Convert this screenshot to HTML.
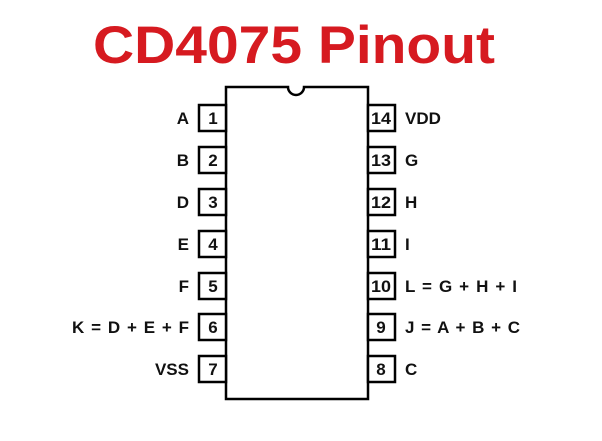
<!DOCTYPE html>
<html><head><style>body{margin:0;background:#fff}</style></head><body>
<svg width="602" height="436" xmlns="http://www.w3.org/2000/svg" font-family="Liberation Sans, Arial, sans-serif">
<text x="93" y="63" font-size="53" font-weight="bold" fill="#d61a20" textLength="402" lengthAdjust="spacingAndGlyphs">CD4075 Pinout</text>
<g stroke="#000" stroke-width="2.5" fill="#fff">
<path d="M226 87 H288 A8 8 0 0 0 304 87 H368 V399 H226 Z"/>
<rect x="199" y="105" width="27" height="26"/><rect x="199" y="147" width="27" height="26"/>
<rect x="199" y="189" width="27" height="26"/><rect x="199" y="231" width="27" height="26"/>
<rect x="199" y="273" width="27" height="26"/><rect x="199" y="314" width="27" height="26"/>
<rect x="199" y="356" width="27" height="26"/>
<rect x="368" y="105" width="27" height="26"/><rect x="368" y="147" width="27" height="26"/>
<rect x="368" y="189" width="27" height="26"/><rect x="368" y="231" width="27" height="26"/>
<rect x="368" y="273" width="27" height="26"/><rect x="368" y="314" width="27" height="26"/>
<rect x="368" y="356" width="27" height="26"/>
</g>
<g font-size="17" font-weight="bold" fill="#111" text-anchor="middle">
<text x="213" y="124">1</text><text x="213" y="166">2</text><text x="213" y="208">3</text><text x="213" y="250">4</text><text x="213" y="292">5</text><text x="213" y="333">6</text><text x="213" y="375">7</text>
<text x="381" y="124" textLength="20" lengthAdjust="spacingAndGlyphs">14</text><text x="381" y="166" textLength="20" lengthAdjust="spacingAndGlyphs">13</text><text x="381" y="208" textLength="20" lengthAdjust="spacingAndGlyphs">12</text><text x="381" y="250" textLength="20" lengthAdjust="spacingAndGlyphs">11</text><text x="381" y="292" textLength="20" lengthAdjust="spacingAndGlyphs">10</text><text x="381" y="333">9</text><text x="381" y="375">8</text>
</g>
<g font-size="17" font-weight="bold" fill="#111" text-anchor="end">
<text x="189" y="124">A</text><text x="189" y="166">B</text><text x="189" y="208">D</text><text x="189" y="250">E</text><text x="189" y="292">F</text><text x="189" y="333" textLength="117" lengthAdjust="spacing">K = D + E + F</text><text x="189" y="375">VSS</text>
</g>
<g font-size="17" font-weight="bold" fill="#111">
<text x="405" y="124">VDD</text><text x="405" y="166">G</text><text x="405" y="208">H</text><text x="405" y="250">I</text><text x="405" y="292" textLength="112" lengthAdjust="spacing">L = G + H + I</text><text x="405" y="333" textLength="115" lengthAdjust="spacing">J = A + B + C</text><text x="405" y="375">C</text>
</g>
</svg>
</body></html>
